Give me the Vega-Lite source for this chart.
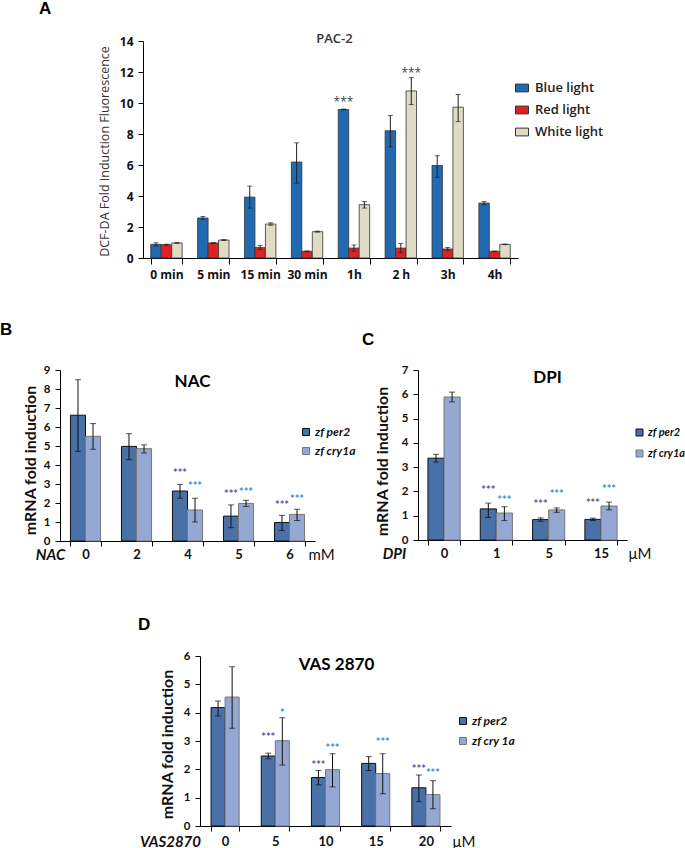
{
 "$schema": "https://vega.github.io/schema/vega-lite/v6.json",
 "padding": {"left": 0, "top": 0, "right": 0, "bottom": 0},
 "background": "white",
 "config": {
  "view": {"stroke": null},
  "axis": {"grid": false, "domainColor": "#000", "tickColor": "#000", "labelColor": "#111", "titleColor": "#111", "maxExtent": 300, "labelFontWeight": "bold", "tickSize": 5, "labelFont": "Lato", "titleFont": "Lato"},
  "legend": {"orient": "none", "title": null, "padding": 0},
  "title": {"font": "Liberation Sans", "fontWeight": "bold", "fontSize": 17, "color": "#000", "anchor": "start", "frame": "bounds"}
 },
 "datasets": {
  "pac2": [
   {"time": "0 min", "light": "Blue light", "mean": 0.88, "lo": 0.78, "hi": 0.98},
   {"time": "0 min", "light": "Red light", "mean": 0.86, "lo": 0.83, "hi": 0.89},
   {"time": "0 min", "light": "White light", "mean": 0.97, "lo": 0.95, "hi": 0.99},
   {"time": "5 min", "light": "Blue light", "mean": 2.58, "lo": 2.48, "hi": 2.68},
   {"time": "5 min", "light": "Red light", "mean": 0.97, "lo": 0.94, "hi": 1.0},
   {"time": "5 min", "light": "White light", "mean": 1.16, "lo": 1.13, "hi": 1.19},
   {"time": "15 min", "light": "Blue light", "mean": 3.93, "lo": 3.22, "hi": 4.64},
   {"time": "15 min", "light": "Red light", "mean": 0.67, "lo": 0.54, "hi": 0.8},
   {"time": "15 min", "light": "White light", "mean": 2.19, "lo": 2.11, "hi": 2.27},
   {"time": "30 min", "light": "Blue light", "mean": 6.19, "lo": 4.83, "hi": 7.43},
   {"time": "30 min", "light": "Red light", "mean": 0.43, "lo": 0.4, "hi": 0.46},
   {"time": "30 min", "light": "White light", "mean": 1.7, "lo": 1.67, "hi": 1.73},
   {"time": "1h", "light": "Blue light", "mean": 9.58, "lo": 9.55, "hi": 9.61},
   {"time": "1h", "light": "Red light", "mean": 0.64, "lo": 0.44, "hi": 0.84},
   {"time": "1h", "light": "White light", "mean": 3.44, "lo": 3.22, "hi": 3.64},
   {"time": "2 h", "light": "Blue light", "mean": 8.21, "lo": 7.17, "hi": 9.19},
   {"time": "2 h", "light": "Red light", "mean": 0.64, "lo": 0.34, "hi": 0.94},
   {"time": "2 h", "light": "White light", "mean": 10.78, "lo": 9.9, "hi": 11.64},
   {"time": "3h", "light": "Blue light", "mean": 5.97, "lo": 5.2, "hi": 6.6},
   {"time": "3h", "light": "Red light", "mean": 0.58, "lo": 0.48, "hi": 0.68},
   {"time": "3h", "light": "White light", "mean": 9.73, "lo": 8.8, "hi": 10.55},
   {"time": "4h", "light": "Blue light", "mean": 3.54, "lo": 3.44, "hi": 3.64},
   {"time": "4h", "light": "Red light", "mean": 0.43, "lo": 0.41, "hi": 0.45},
   {"time": "4h", "light": "White light", "mean": 0.88, "lo": 0.86, "hi": 0.9}
  ],
  "pac2stars": [
   {"time": "1h", "light": "Blue light", "y": 10.3, "label": "***"},
   {"time": "2 h", "light": "White light", "y": 12.2, "label": "***"}
  ],
  "nac": [
   {"dose": "0", "gene": "zf per2", "mean": 6.62, "lo": 4.72, "hi": 8.49},
   {"dose": "0", "gene": "zf cry1a", "mean": 5.51, "lo": 4.83, "hi": 6.18},
   {"dose": "2", "gene": "zf per2", "mean": 4.98, "lo": 4.28, "hi": 5.65},
   {"dose": "2", "gene": "zf cry1a", "mean": 4.86, "lo": 4.63, "hi": 5.06},
   {"dose": "4", "gene": "zf per2", "mean": 2.63, "lo": 2.25, "hi": 2.98},
   {"dose": "4", "gene": "zf cry1a", "mean": 1.63, "lo": 1.0, "hi": 2.25},
   {"dose": "5", "gene": "zf per2", "mean": 1.31, "lo": 0.7, "hi": 1.9},
   {"dose": "5", "gene": "zf cry1a", "mean": 1.98, "lo": 1.82, "hi": 2.14},
   {"dose": "6", "gene": "zf per2", "mean": 0.97, "lo": 0.55, "hi": 1.35},
   {"dose": "6", "gene": "zf cry1a", "mean": 1.4, "lo": 1.08, "hi": 1.67}
  ],
  "nacstars": [
   {"dose": "4", "gene": "zf per2", "y": 3.68, "label": "***"},
   {"dose": "4", "gene": "zf cry1a", "y": 2.98, "label": "***"},
   {"dose": "5", "gene": "zf per2", "y": 2.56, "label": "***"},
   {"dose": "5", "gene": "zf cry1a", "y": 2.7, "label": "***"},
   {"dose": "6", "gene": "zf per2", "y": 1.98, "label": "***"},
   {"dose": "6", "gene": "zf cry1a", "y": 2.33, "label": "***"}
  ],
  "dpi": [
   {"dose": "0", "gene": "zf per2", "mean": 3.37, "lo": 3.21, "hi": 3.53},
   {"dose": "0", "gene": "zf cry1a", "mean": 5.89, "lo": 5.69, "hi": 6.09},
   {"dose": "1", "gene": "zf per2", "mean": 1.28, "lo": 0.93, "hi": 1.52},
   {"dose": "1", "gene": "zf cry1a", "mean": 1.11, "lo": 0.8, "hi": 1.37},
   {"dose": "5", "gene": "zf per2", "mean": 0.84, "lo": 0.77, "hi": 0.91},
   {"dose": "5", "gene": "zf cry1a", "mean": 1.24, "lo": 1.14, "hi": 1.32},
   {"dose": "15", "gene": "zf per2", "mean": 0.85, "lo": 0.8, "hi": 0.9},
   {"dose": "15", "gene": "zf cry1a", "mean": 1.4, "lo": 1.24, "hi": 1.56}
  ],
  "dpistars": [
   {"dose": "1", "gene": "zf per2", "y": 2.13, "label": "***"},
   {"dose": "1", "gene": "zf cry1a", "y": 1.74, "label": "***"},
   {"dose": "5", "gene": "zf per2", "y": 1.58, "label": "***"},
   {"dose": "5", "gene": "zf cry1a", "y": 1.96, "label": "***"},
   {"dose": "15", "gene": "zf per2", "y": 1.62, "label": "***"},
   {"dose": "15", "gene": "zf cry1a", "y": 2.17, "label": "***"}
  ],
  "vas": [
   {"dose": "0", "gene": "zf per2", "mean": 4.18, "lo": 3.88, "hi": 4.41},
   {"dose": "0", "gene": "zf cry 1a", "mean": 4.55, "lo": 3.45, "hi": 5.62},
   {"dose": "5", "gene": "zf per2", "mean": 2.47, "lo": 2.37, "hi": 2.57},
   {"dose": "5", "gene": "zf cry 1a", "mean": 3.01, "lo": 2.15, "hi": 3.82},
   {"dose": "10", "gene": "zf per2", "mean": 1.71, "lo": 1.45, "hi": 1.96},
   {"dose": "10", "gene": "zf cry 1a", "mean": 1.99, "lo": 1.38, "hi": 2.55},
   {"dose": "15", "gene": "zf per2", "mean": 2.21, "lo": 1.96, "hi": 2.45},
   {"dose": "15", "gene": "zf cry 1a", "mean": 1.85, "lo": 1.14, "hi": 2.55},
   {"dose": "20", "gene": "zf per2", "mean": 1.35, "lo": 0.86, "hi": 1.8},
   {"dose": "20", "gene": "zf cry 1a", "mean": 1.11, "lo": 0.61, "hi": 1.6}
  ],
  "vasstars": [
   {"dose": "5", "gene": "zf per2", "y": 3.2, "label": "***"},
   {"dose": "5", "gene": "zf cry 1a", "y": 4.06, "label": "*"},
   {"dose": "10", "gene": "zf per2", "y": 2.24, "label": "***"},
   {"dose": "10", "gene": "zf cry 1a", "y": 2.81, "label": "***"},
   {"dose": "15", "gene": "zf cry 1a", "y": 3.04, "label": "***"},
   {"dose": "20", "gene": "zf per2", "y": 2.08, "label": "***"},
   {"dose": "20", "gene": "zf cry 1a", "y": 1.94, "label": "***"}
  ]
 },
 "spacing": 41,
 "resolve": {"scale": {"fill": "independent", "stroke": "independent", "color": "independent", "xOffset": "independent", "x": "independent", "y": "independent"}},
 "vconcat": [
  {
   "title": {"text": "A", "dx": -21, "offset": 15},
   "spacing": 0,
   "resolve": {"scale": {"fill": "independent", "stroke": "independent", "color": "independent", "xOffset": "independent", "x": "independent", "y": "independent"}},
   "hconcat": [
    {"width": 33, "height": 1, "data": {"values": []}, "mark": "point"},
    {
     "width": 375, "height": 217,
     "title": {"text": "PAC-2", "anchor": "middle", "frame": "group", "offset": -11, "dx": 4, "font": "Open Sans", "fontSize": 13, "fontWeight": 600, "color": "#333"},
     "data": {"name": "pac2"},
     "encoding": {
      "x": {"field": "time", "type": "nominal", "sort": ["0 min", "5 min", "15 min", "30 min", "1h", "2 h", "3h", "4h"], "scale": {"paddingInner": 0.33, "paddingOuter": 0.165},
            "axis": {"title": null, "labelAngle": 0, "tickBand": "extent", "labelFont": "Open Sans", "labelFontSize": 12, "labelPadding": 5, "tickSize": 6}},
      "xOffset": {"field": "light", "type": "nominal", "scale": {"domain": ["Blue light", "Red light", "White light"], "paddingInner": 0, "paddingOuter": 0}}
     },
     "layer": [
      {
       "mark": {"type": "bar", "stroke": "#333", "strokeWidth": 0.8},
       "encoding": {
        "y": {"field": "mean", "type": "quantitative", "scale": {"domain": [0, 14], "nice": false},
              "axis": {"title": "DCF-DA Fold Induction Fluorescence", "values": [0, 2, 4, 6, 8, 10, 12, 14], "labelFont": "Open Sans", "labelFontSize": 12, "labelPadding": 5, "titleFont": "Open Sans", "titleFontSize": 12.5, "titleFontWeight": "normal", "titleColor": "#333", "titleX": -39, "titleY": 110, "titleAngle": -90, "titleAlign": "center", "titleBaseline": "middle", "minExtent": 50}},
        "fill": {"field": "light", "type": "nominal", "scale": {"domain": ["Blue light", "Red light", "White light"], "range": ["#2169B0", "#DD2222", "#DFDBC5"]},
                 "legend": {"legendX": 372, "legendY": 40, "symbolType": "M-1,-0.6H1V0.6H-1Z", "symbolSize": 169, "symbolStrokeColor": "#333", "symbolStrokeWidth": 1, "labelFont": "Open Sans", "labelFontSize": 13, "labelFontWeight": 600, "labelColor": "#222", "labelOffset": 6, "rowPadding": 8}}
       }
      },
      {"mark": {"type": "rule", "color": "#222", "strokeWidth": 1}, "encoding": {"y": {"field": "lo", "type": "quantitative", "axis": {"title": "DCF-DA Fold Induction Fluorescence", "values": [0, 2, 4, 6, 8, 10, 12, 14], "labelFont": "Open Sans", "labelFontSize": 12, "labelPadding": 5, "titleFont": "Open Sans", "titleFontSize": 12.5, "titleFontWeight": "normal", "titleColor": "#333", "titleX": -39, "titleY": 110, "titleAngle": -90, "titleAlign": "center", "titleBaseline": "middle", "minExtent": 50}}, "y2": {"field": "hi"}}},
      {"mark": {"type": "tick", "color": "#222", "thickness": 1, "size": 5}, "encoding": {"y": {"field": "lo", "type": "quantitative", "axis": {"title": "DCF-DA Fold Induction Fluorescence", "values": [0, 2, 4, 6, 8, 10, 12, 14], "labelFont": "Open Sans", "labelFontSize": 12, "labelPadding": 5, "titleFont": "Open Sans", "titleFontSize": 12.5, "titleFontWeight": "normal", "titleColor": "#333", "titleX": -39, "titleY": 110, "titleAngle": -90, "titleAlign": "center", "titleBaseline": "middle", "minExtent": 50}}}},
      {"mark": {"type": "tick", "color": "#222", "thickness": 1, "size": 5}, "encoding": {"y": {"field": "hi", "type": "quantitative", "axis": {"title": "DCF-DA Fold Induction Fluorescence", "values": [0, 2, 4, 6, 8, 10, 12, 14], "labelFont": "Open Sans", "labelFontSize": 12, "labelPadding": 5, "titleFont": "Open Sans", "titleFontSize": 12.5, "titleFontWeight": "normal", "titleColor": "#333", "titleX": -39, "titleY": 110, "titleAngle": -90, "titleAlign": "center", "titleBaseline": "middle", "minExtent": 50}}}},
      {"data": {"name": "pac2stars"}, "mark": {"type": "text", "font": "Open Sans", "fontSize": 12, "color": "#444", "baseline": "middle", "dy": 4}, "encoding": {"y": {"field": "y", "type": "quantitative", "axis": {"title": "DCF-DA Fold Induction Fluorescence", "values": [0, 2, 4, 6, 8, 10, 12, 14], "labelFont": "Open Sans", "labelFontSize": 12, "labelPadding": 5, "titleFont": "Open Sans", "titleFontSize": 12.5, "titleFontWeight": "normal", "titleColor": "#333", "titleX": -39, "titleY": 110, "titleAngle": -90, "titleAlign": "center", "titleBaseline": "middle", "minExtent": 50}}, "text": {"field": "label"}}}
     ]
    }
   ]
  },
  {
   "spacing": 6,
   "resolve": {"scale": {"fill": "independent", "stroke": "independent", "color": "independent", "xOffset": "independent", "x": "independent", "y": "independent"}},
   "hconcat": [
    {
     "title": {"text": "B", "dx": 0, "offset": 25},
     "resolve": {"scale": {"fill": "independent", "stroke": "independent", "color": "independent", "xOffset": "independent", "x": "independent", "y": "independent"}},
     "vconcat": [
      {
       "width": 255, "height": 171,
       "title": {"text": "NAC", "anchor": "middle", "frame": "group", "offset": -27, "dx": 5, "font": "Lato", "fontSize": 17, "fontWeight": "bold"},
       "data": {"name": "nac"},
       "resolve": {"axis": {"x": "independent"}},
       "encoding": {"xOffset": {"field": "gene", "type": "nominal", "scale": {"domain": ["zf per2", "zf cry1a"], "paddingInner": 0, "paddingOuter": 0}}},
       "layer": [
        {
         "mark": {"type": "bar", "strokeWidth": 1},
         "encoding": {
          "x": {"field": "dose", "type": "nominal", "sort": ["0", "2", "4", "5", "6"], "scale": {"paddingInner": 0.41, "paddingOuter": 0.205},
                "axis": {"orient": "bottom", "title": "NAC", "titleX": -10, "titleY": 13, "titleAlign": "center", "titleBaseline": "middle", "titleFontStyle": "italic", "titleFontWeight": "bold", "titleFontSize": 15, "labelAngle": 0, "tickBand": "extent", "labelFontSize": 13, "labelPadding": 2, "minExtent": 34}},
          "y": {"field": "mean", "type": "quantitative", "scale": {"domain": [0, 9], "nice": false},
                "axis": {"title": "mRNA fold induction", "values": [0, 1, 2, 3, 4, 5, 6, 7, 8, 9], "labelFontSize": 11.5, "labelPadding": 5, "titleFontSize": 16, "titleFontWeight": "bold", "titleX": -29.5, "titleY": 90, "titleAngle": -90, "titleAlign": "center", "titleBaseline": "middle", "minExtent": 60}},
          "fill": {"field": "gene", "type": "nominal", "scale": {"domain": ["zf per2", "zf cry1a"], "range": ["#4A70A8", "#95A8D3"]},
                   "legend": {"legendX": 240, "legendY": 56, "symbolType": "square", "symbolSize": 49, "symbolStrokeColor": "#333", "symbolStrokeWidth": 1, "labelFont": "Lato", "labelFontSize": 12, "labelFontStyle": "italic", "labelFontWeight": "bold", "labelColor": "#111", "labelOffset": 3, "rowPadding": 7}},
          "stroke": {"field": "gene", "type": "nominal", "scale": {"domain": ["zf per2", "zf cry1a"], "range": ["#111", "#777"]}, "legend": null}
         }
        },
        {"mark": {"type": "rule", "color": "#111"},
         "encoding": {"x": {"field": "dose", "type": "nominal", "sort": ["0", "2", "4", "5", "6"], "axis": {"orient": "bottom", "title": "mM", "titleX": 248, "titleY": 13, "titleAlign": "left", "titleBaseline": "middle", "titleFontWeight": "normal", "titleFontSize": 15, "labels": false, "ticks": false, "domain": false}},
                      "y": {"field": "lo", "type": "quantitative", "axis": {"title": "mRNA fold induction", "values": [0, 1, 2, 3, 4, 5, 6, 7, 8, 9], "labelFontSize": 11.5, "labelPadding": 5, "titleFontSize": 16, "titleFontWeight": "bold", "titleX": -29.5, "titleY": 90, "titleAngle": -90, "titleAlign": "center", "titleBaseline": "middle", "minExtent": 60}}, "y2": {"field": "hi"}}},
        {"mark": {"type": "tick", "color": "#111", "thickness": 1, "size": 6}, "encoding": {"x": {"field": "dose", "type": "nominal", "sort": ["0", "2", "4", "5", "6"], "axis": null}, "y": {"field": "lo", "type": "quantitative", "axis": {"title": "mRNA fold induction", "values": [0, 1, 2, 3, 4, 5, 6, 7, 8, 9], "labelFontSize": 11.5, "labelPadding": 5, "titleFontSize": 16, "titleFontWeight": "bold", "titleX": -29.5, "titleY": 90, "titleAngle": -90, "titleAlign": "center", "titleBaseline": "middle", "minExtent": 60}}}},
        {"mark": {"type": "tick", "color": "#111", "thickness": 1, "size": 6}, "encoding": {"x": {"field": "dose", "type": "nominal", "sort": ["0", "2", "4", "5", "6"], "axis": null}, "y": {"field": "hi", "type": "quantitative", "axis": {"title": "mRNA fold induction", "values": [0, 1, 2, 3, 4, 5, 6, 7, 8, 9], "labelFontSize": 11.5, "labelPadding": 5, "titleFontSize": 16, "titleFontWeight": "bold", "titleX": -29.5, "titleY": 90, "titleAngle": -90, "titleAlign": "center", "titleBaseline": "middle", "minExtent": 60}}}},
        {"data": {"name": "nacstars"}, "mark": {"type": "text", "font": "Lato", "fontSize": 11, "fontWeight": "bold", "baseline": "middle", "dy": 3},
         "encoding": {"x": {"field": "dose", "type": "nominal", "sort": ["0", "2", "4", "5", "6"], "axis": null}, "y": {"field": "y", "type": "quantitative", "axis": {"title": "mRNA fold induction", "values": [0, 1, 2, 3, 4, 5, 6, 7, 8, 9], "labelFontSize": 11.5, "labelPadding": 5, "titleFontSize": 16, "titleFontWeight": "bold", "titleX": -29.5, "titleY": 90, "titleAngle": -90, "titleAlign": "center", "titleBaseline": "middle", "minExtent": 60}}, "text": {"field": "label"},
                      "color": {"field": "gene", "type": "nominal", "scale": {"domain": ["zf per2", "zf cry1a"], "range": ["#6B4FA0", "#3C8FD8"]}, "legend": null}}}
       ]
      }
     ]
    },
    {
     "title": {"text": "C", "dx": -5, "dy": 10, "offset": 25},
     "resolve": {"scale": {"fill": "independent", "stroke": "independent", "color": "independent", "xOffset": "independent", "x": "independent", "y": "independent"}},
     "vconcat": [
      {
       "width": 209, "height": 170,
       "title": {"text": "DPI", "anchor": "middle", "frame": "group", "offset": -23, "dx": 25, "font": "Lato", "fontSize": 17, "fontWeight": "bold"},
       "data": {"name": "dpi"},
       "resolve": {"axis": {"x": "independent"}},
       "encoding": {"xOffset": {"field": "gene", "type": "nominal", "scale": {"domain": ["zf per2", "zf cry1a"], "paddingInner": 0, "paddingOuter": 0}}},
       "layer": [
        {
         "mark": {"type": "bar", "strokeWidth": 1},
         "encoding": {
          "x": {"field": "dose", "type": "nominal", "sort": ["0", "1", "5", "15"], "scale": {"paddingInner": 0.385, "paddingOuter": 0.19},
                "axis": {"orient": "bottom", "title": "DPI", "titleX": -24, "titleY": 13, "titleAlign": "center", "titleBaseline": "middle", "titleFontStyle": "italic", "titleFontWeight": "bold", "titleFontSize": 15, "labelAngle": 0, "tickBand": "extent", "labelFontSize": 13, "labelPadding": 2, "minExtent": 34}},
          "y": {"field": "mean", "type": "quantitative", "scale": {"domain": [0, 7], "nice": false},
                "axis": {"title": "mRNA fold induction", "values": [0, 1, 2, 3, 4, 5, 6, 7], "labelFontSize": 11.5, "labelPadding": 5, "titleFontSize": 16, "titleFontWeight": "bold", "titleX": -35.5, "titleY": 91, "titleAngle": -90, "titleAlign": "center", "titleBaseline": "middle", "minExtent": 51}},
          "fill": {"field": "gene", "type": "nominal", "scale": {"domain": ["zf per2", "zf cry1a"], "range": ["#4A70A8", "#95A8D3"]},
                   "legend": {"legendX": 216, "legendY": 57, "symbolType": "square", "symbolSize": 49, "symbolStrokeColor": "#333", "symbolStrokeWidth": 1, "labelFont": "Lato", "labelFontSize": 11, "labelFontStyle": "italic", "labelFontWeight": "bold", "labelColor": "#111", "labelOffset": 3, "rowPadding": 9}},
          "stroke": {"field": "gene", "type": "nominal", "scale": {"domain": ["zf per2", "zf cry1a"], "range": ["#111", "#777"]}, "legend": null}
         }
        },
        {"mark": {"type": "rule", "color": "#111"},
         "encoding": {"x": {"field": "dose", "type": "nominal", "sort": ["0", "1", "5", "15"], "axis": {"orient": "bottom", "title": "μM", "titleX": 210, "titleY": 13, "titleAlign": "left", "titleBaseline": "middle", "titleFontWeight": "normal", "titleFontSize": 15, "labels": false, "ticks": false, "domain": false}},
                      "y": {"field": "lo", "type": "quantitative", "axis": {"title": "mRNA fold induction", "values": [0, 1, 2, 3, 4, 5, 6, 7], "labelFontSize": 11.5, "labelPadding": 5, "titleFontSize": 16, "titleFontWeight": "bold", "titleX": -35.5, "titleY": 91, "titleAngle": -90, "titleAlign": "center", "titleBaseline": "middle", "minExtent": 51}}, "y2": {"field": "hi"}}},
        {"mark": {"type": "tick", "color": "#111", "thickness": 1, "size": 6}, "encoding": {"x": {"field": "dose", "type": "nominal", "sort": ["0", "1", "5", "15"], "axis": null}, "y": {"field": "lo", "type": "quantitative", "axis": {"title": "mRNA fold induction", "values": [0, 1, 2, 3, 4, 5, 6, 7], "labelFontSize": 11.5, "labelPadding": 5, "titleFontSize": 16, "titleFontWeight": "bold", "titleX": -35.5, "titleY": 91, "titleAngle": -90, "titleAlign": "center", "titleBaseline": "middle", "minExtent": 51}}}},
        {"mark": {"type": "tick", "color": "#111", "thickness": 1, "size": 6}, "encoding": {"x": {"field": "dose", "type": "nominal", "sort": ["0", "1", "5", "15"], "axis": null}, "y": {"field": "hi", "type": "quantitative", "axis": {"title": "mRNA fold induction", "values": [0, 1, 2, 3, 4, 5, 6, 7], "labelFontSize": 11.5, "labelPadding": 5, "titleFontSize": 16, "titleFontWeight": "bold", "titleX": -35.5, "titleY": 91, "titleAngle": -90, "titleAlign": "center", "titleBaseline": "middle", "minExtent": 51}}}},
        {"data": {"name": "dpistars"}, "mark": {"type": "text", "font": "Lato", "fontSize": 11, "fontWeight": "bold", "baseline": "middle", "dy": 3},
         "encoding": {"x": {"field": "dose", "type": "nominal", "sort": ["0", "1", "5", "15"], "axis": null}, "y": {"field": "y", "type": "quantitative", "axis": {"title": "mRNA fold induction", "values": [0, 1, 2, 3, 4, 5, 6, 7], "labelFontSize": 11.5, "labelPadding": 5, "titleFontSize": 16, "titleFontWeight": "bold", "titleX": -35.5, "titleY": 91, "titleAngle": -90, "titleAlign": "center", "titleBaseline": "middle", "minExtent": 51}}, "text": {"field": "label"},
                      "color": {"field": "gene", "type": "nominal", "scale": {"domain": ["zf per2", "zf cry1a"], "range": ["#6B4FA0", "#3C8FD8"]}, "legend": null}}}
       ]
      }
     ]
    }
   ]
  },
  {
   "title": {"text": "D", "dx": 78, "offset": 16},
   "spacing": 0,
   "resolve": {"scale": {"fill": "independent", "stroke": "independent", "color": "independent", "xOffset": "independent", "x": "independent", "y": "independent"}},
   "hconcat": [
    {"width": 78, "height": 1, "data": {"values": []}, "mark": "point"},
    {
     "width": 251, "height": 170,
     "title": {"text": "VAS 2870", "anchor": "middle", "frame": "group", "offset": -24, "dx": 11, "font": "Lato", "fontSize": 17, "fontWeight": "bold"},
     "data": {"name": "vas"},
     "resolve": {"axis": {"x": "independent"}},
     "encoding": {"xOffset": {"field": "gene", "type": "nominal", "scale": {"domain": ["zf per2", "zf cry 1a"], "paddingInner": 0, "paddingOuter": 0}}},
     "layer": [
      {
       "mark": {"type": "bar", "strokeWidth": 1},
       "encoding": {
        "x": {"field": "dose", "type": "nominal", "sort": ["0", "5", "10", "15", "20"], "scale": {"paddingInner": 0.44, "paddingOuter": 0.22},
              "axis": {"orient": "bottom", "title": "VAS2870", "titleX": -30, "titleY": 15, "titleAlign": "center", "titleBaseline": "middle", "titleFontStyle": "italic", "titleFontWeight": "bold", "titleFontSize": 15, "labelAngle": 0, "tickBand": "extent", "labelFontSize": 13, "labelPadding": 4}},
        "y": {"field": "mean", "type": "quantitative", "scale": {"domain": [0, 6], "nice": false},
              "axis": {"title": "mRNA fold induction", "values": [0, 1, 2, 3, 4, 5, 6], "labelFontSize": 11.5, "labelPadding": 5, "titleFontSize": 16, "titleFontWeight": "bold", "titleX": -33, "titleY": 88, "titleAngle": -90, "titleAlign": "center", "titleBaseline": "middle", "minExtent": 62}},
        "fill": {"field": "gene", "type": "nominal", "scale": {"domain": ["zf per2", "zf cry 1a"], "range": ["#4A70A8", "#95A8D3"]},
                 "legend": {"legendX": 257, "legendY": 59, "symbolType": "square", "symbolSize": 49, "symbolStrokeColor": "#333", "symbolStrokeWidth": 1, "labelFont": "Lato", "labelFontSize": 12, "labelFontStyle": "italic", "labelFontWeight": "bold", "labelColor": "#111", "labelOffset": 3, "rowPadding": 8}},
        "stroke": {"field": "gene", "type": "nominal", "scale": {"domain": ["zf per2", "zf cry 1a"], "range": ["#111", "#777"]}, "legend": null}
       }
      },
      {"mark": {"type": "rule", "color": "#111"},
       "encoding": {"x": {"field": "dose", "type": "nominal", "sort": ["0", "5", "10", "15", "20"], "axis": {"orient": "bottom", "title": "μM", "titleX": 252, "titleY": 15, "titleAlign": "left", "titleBaseline": "middle", "titleFontWeight": "normal", "titleFontSize": 15, "labels": false, "ticks": false, "domain": false}},
                    "y": {"field": "lo", "type": "quantitative", "axis": {"title": "mRNA fold induction", "values": [0, 1, 2, 3, 4, 5, 6], "labelFontSize": 11.5, "labelPadding": 5, "titleFontSize": 16, "titleFontWeight": "bold", "titleX": -33, "titleY": 88, "titleAngle": -90, "titleAlign": "center", "titleBaseline": "middle", "minExtent": 62}}, "y2": {"field": "hi"}}},
      {"mark": {"type": "tick", "color": "#111", "thickness": 1, "size": 6}, "encoding": {"x": {"field": "dose", "type": "nominal", "sort": ["0", "5", "10", "15", "20"], "axis": null}, "y": {"field": "lo", "type": "quantitative", "axis": {"title": "mRNA fold induction", "values": [0, 1, 2, 3, 4, 5, 6], "labelFontSize": 11.5, "labelPadding": 5, "titleFontSize": 16, "titleFontWeight": "bold", "titleX": -33, "titleY": 88, "titleAngle": -90, "titleAlign": "center", "titleBaseline": "middle", "minExtent": 62}}}},
      {"mark": {"type": "tick", "color": "#111", "thickness": 1, "size": 6}, "encoding": {"x": {"field": "dose", "type": "nominal", "sort": ["0", "5", "10", "15", "20"], "axis": null}, "y": {"field": "hi", "type": "quantitative", "axis": {"title": "mRNA fold induction", "values": [0, 1, 2, 3, 4, 5, 6], "labelFontSize": 11.5, "labelPadding": 5, "titleFontSize": 16, "titleFontWeight": "bold", "titleX": -33, "titleY": 88, "titleAngle": -90, "titleAlign": "center", "titleBaseline": "middle", "minExtent": 62}}}},
      {"data": {"name": "vasstars"}, "mark": {"type": "text", "font": "Lato", "fontSize": 11, "fontWeight": "bold", "baseline": "middle", "dy": 3},
       "encoding": {"x": {"field": "dose", "type": "nominal", "sort": ["0", "5", "10", "15", "20"], "axis": null}, "y": {"field": "y", "type": "quantitative", "axis": {"title": "mRNA fold induction", "values": [0, 1, 2, 3, 4, 5, 6], "labelFontSize": 11.5, "labelPadding": 5, "titleFontSize": 16, "titleFontWeight": "bold", "titleX": -33, "titleY": 88, "titleAngle": -90, "titleAlign": "center", "titleBaseline": "middle", "minExtent": 62}}, "text": {"field": "label"},
                    "color": {"field": "gene", "type": "nominal", "scale": {"domain": ["zf per2", "zf cry 1a"], "range": ["#6B4FA0", "#3C8FD8"]}, "legend": null}}}
     ]
    }
   ]
  }
 ]
}
